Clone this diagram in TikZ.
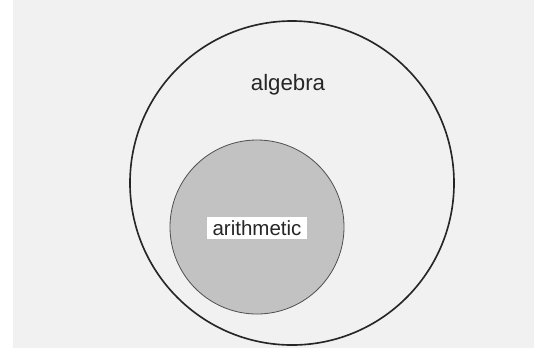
\documentclass[tikz,border=0pt]{standalone}
\usepackage{fontspec}
\setmainfont{Liberation Sans}
\usepackage{xcolor}
\usepackage{tikz}
\definecolor{scan}{HTML}{F1F1F1}
\definecolor{ink}{HTML}{262626}
\definecolor{shade}{HTML}{C2C2C2}
\tikzset{
  setcircle/.style={circle,inner sep=0pt,draw=ink},
  setlabel/.style={font=\fontsize{19}{21}\selectfont,text=ink,inner sep=1pt}
}
\newcommand{\paper}{%
  \fill[white] (0,0) rectangle (534,351);
  \fill[scan] (13,0) rectangle (534,348);
}

\begin{document}
\begin{tikzpicture}[x=0.03cm,y=-0.03cm]
\useasboundingbox (0,0) rectangle (534,351);
\paper
\node[setcircle,line width=1.4pt,minimum size=9.72cm] (alg) at (292,183) {};
\node[setcircle,line width=0.7pt,draw=ink!80,fill=shade,minimum size=5.22cm] (arith) at (257,227) {};
\node[setlabel] (alglabel) at (288,85) {algebra};
\node[setlabel,fill=white,inner xsep=5pt,inner ysep=3pt,font=\fontsize{17.5}{20}\selectfont] (arithlabel) at (257,228) {arithmetic};
\end{tikzpicture}
\end{document}
